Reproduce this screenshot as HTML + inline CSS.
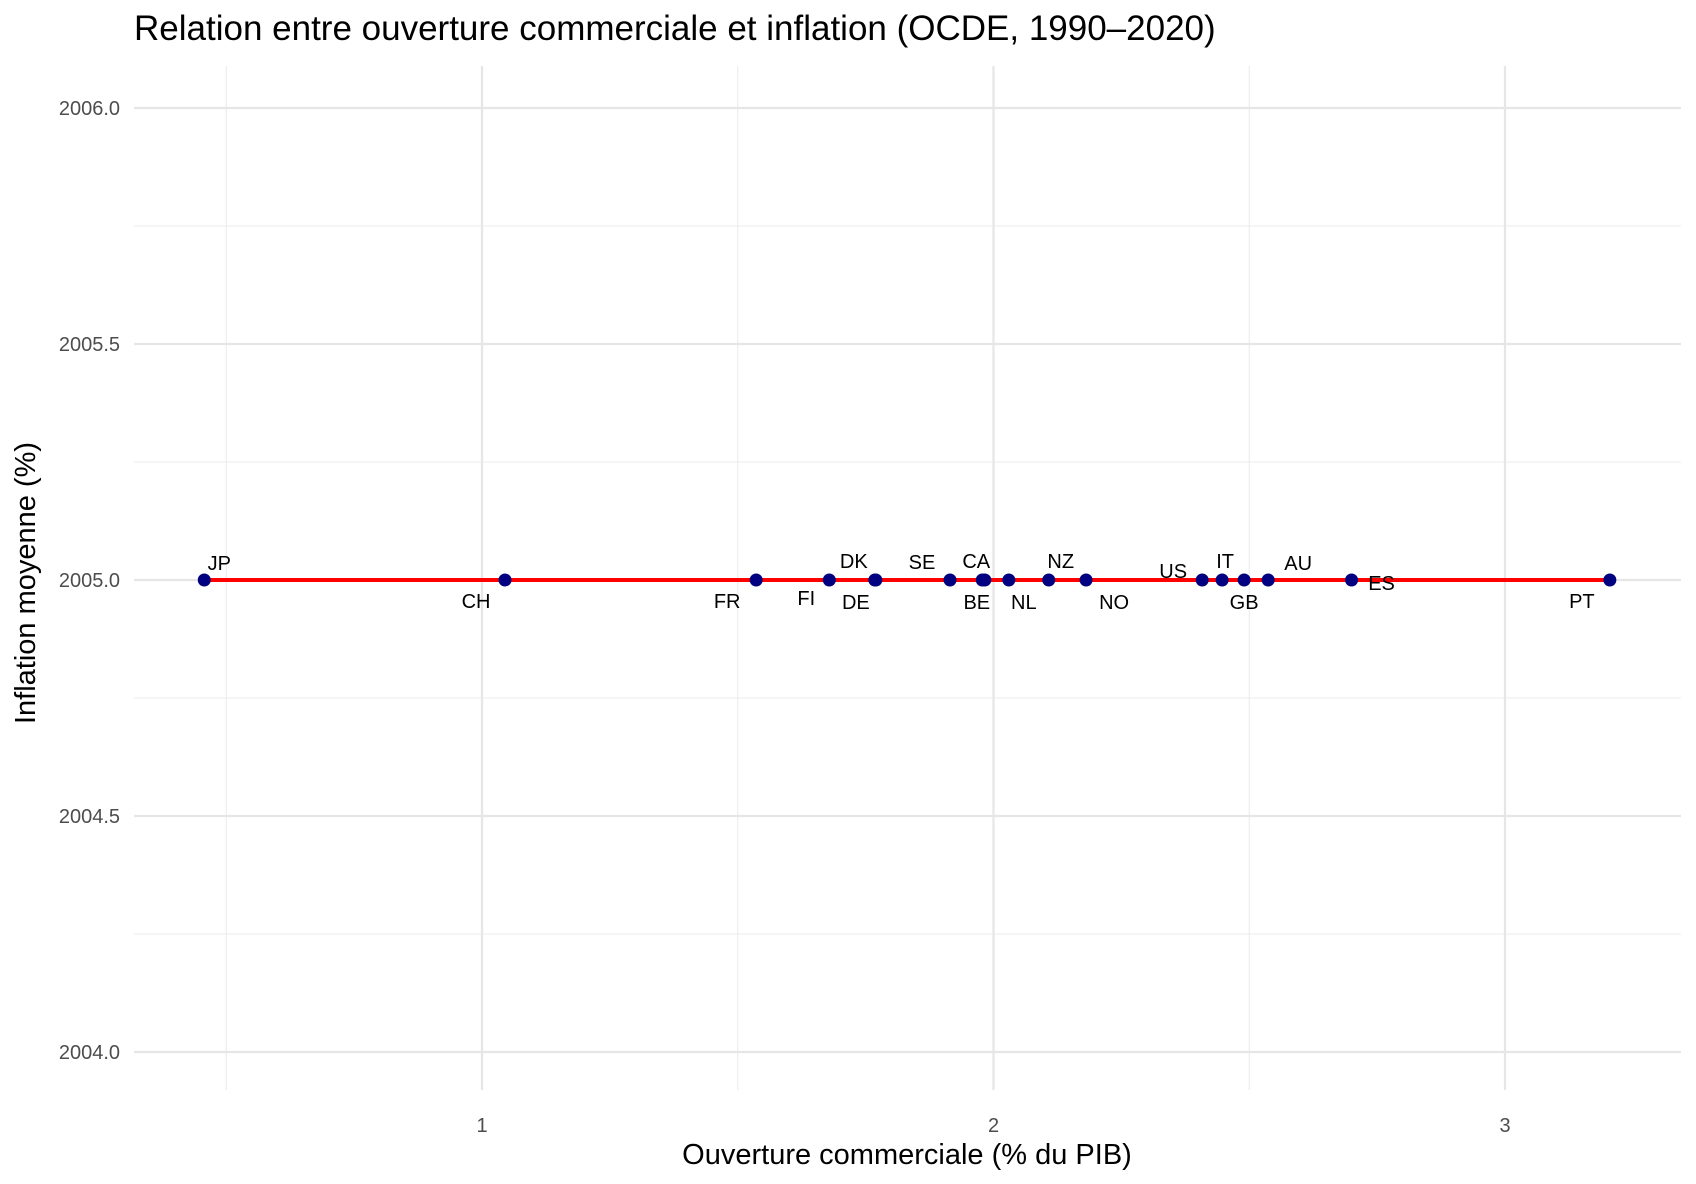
<!DOCTYPE html>
<html><head><meta charset="utf-8"><style>
body{margin:0;background:#fff;}
svg{display:block;font-family:"Liberation Sans",Arial,sans-serif;}
</style></head><body>
<svg id="chart" width="1696" height="1184">
<text x="134" y="40" font-size="35" fill="#000">Relation entre ouverture commerciale et inflation (OCDE, 1990–2020)</text>
<g id="grid"></g>
<g id="marks"></g>
<text x="907" y="1164" font-size="29" text-anchor="middle" fill="#000">Ouverture commerciale (% du PIB)</text>
<text transform="translate(35,583) rotate(-90)" font-size="29" text-anchor="middle" fill="#000">Inflation moyenne (%)</text>
</svg>
<script>
const countries=["JP","CH","FR","FI","DK","DE","SE","CA","BE","NL","NZ","NO","US","IT","GB","AU","ES","PT"];
const openness=[0.457,1.045,1.536,1.679,1.768,1.770,1.915,1.978,1.983,2.030,2.108,2.181,2.408,2.447,2.490,2.537,2.700,3.205];
const inflation=[2005,2005,2005,2005,2005,2005,2005,2005,2005,2005,2005,2005,2005,2005,2005,2005,2005,2005];
const xTicks=[1,2,3];
const xMinor=[0.5,1.5,2.5];
const yTicks=[2004.0,2004.5,2005.0,2005.5,2006.0];
const yMinor=[2004.25,2004.75,2005.25,2005.75];
const fitLine=[2005,2005];
const labelDx=[[15,-17],[-29,21],[-29,21],[-23,18],[-21,-19],[-20,22],[-28,-18],[-6,-19],[-8,22],[15,22],[12,-19],[28,22],[-29,-9],[3,-19],[0,22],[30,-17],[30,3],[-28,21]];

const svg=document.getElementById('chart');
const NS='http://www.w3.org/2000/svg';
const X0=134,X1=1681,Y0=66,Y1=1090;
const xs=v=>482+(v-1)*511.5;
const ys=v=>580-(v-2005)*472;
function mk(tag,at,parent){const e=document.createElementNS(NS,tag);for(const k in at)e.setAttribute(k,at[k]);parent.appendChild(e);return e;}
const grid=document.getElementById('grid'),marks=document.getElementById('marks');
xMinor.forEach(v=>{const l=mk('line',{x1:xs(v),x2:xs(v),y1:Y0,y2:Y1,stroke:'#ebebeb','stroke-width':1.1},grid);

});
yMinor.forEach(v=>{const l=mk('line',{x1:X0,x2:X1,y1:ys(v),y2:ys(v),stroke:'#ebebeb','stroke-width':1.1},grid);

});
xTicks.forEach(v=>{const l=mk('line',{x1:xs(v),x2:xs(v),y1:Y0,y2:Y1,stroke:'#e6e6e6','stroke-width':2.2},grid);


const t=mk('text',{x:xs(v),y:1132,'font-size':20,'text-anchor':'middle',fill:'#4d4d4d'},grid);t.textContent=String(v);

});
yTicks.forEach(v=>{const l=mk('line',{x1:X0,x2:X1,y1:ys(v),y2:ys(v),stroke:'#e6e6e6','stroke-width':2.2},grid);


const t=mk('text',{x:120,y:ys(v)+7,'font-size':20,'text-anchor':'end',fill:'#4d4d4d'},grid);t.textContent=v.toFixed(1);

});
const xmin=Math.min(...openness),xmax=Math.max(...openness);
const fl=mk('line',{x1:xs(xmin),x2:xs(xmax),y1:ys(fitLine[0]),y2:ys(fitLine[1]),stroke:'#ff0000','stroke-width':4},marks);


countries.forEach((c,i)=>{
 const p=mk('circle',{cx:xs(openness[i]),cy:ys(inflation[i]),r:6.5,fill:'#000080'},marks);
 
 
});
countries.forEach((c,i)=>{
 const t=mk('text',{x:xs(openness[i])+labelDx[i][0],y:ys(inflation[i])+labelDx[i][1]+7,'font-size':20,'text-anchor':'middle',fill:'#000'},marks);
 t.textContent=c;
 
 
});
</script>
</body></html>
